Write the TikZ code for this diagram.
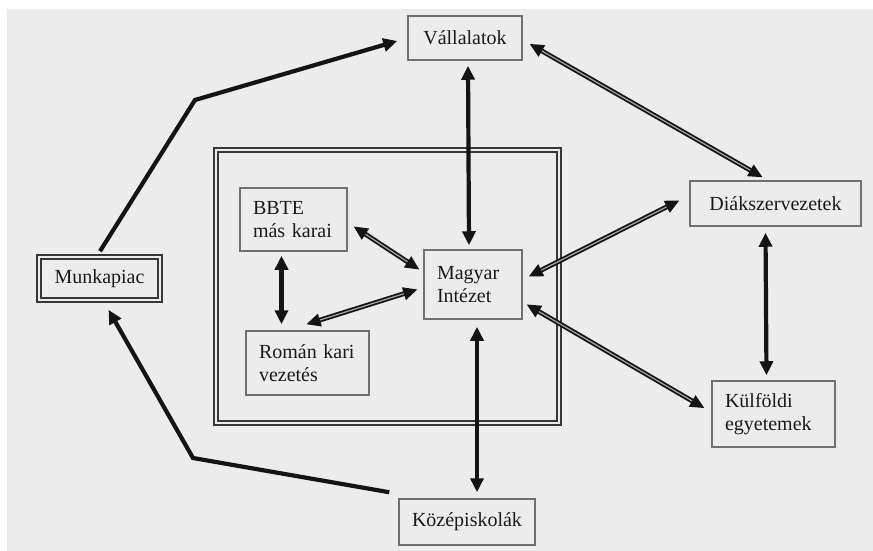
\documentclass[tikz,border=0pt]{standalone}
\usepackage{fontspec}
\setmainfont{Liberation Serif}
\usetikzlibrary{arrows.meta,calc}
\definecolor{bg}{HTML}{ECECEC}
\definecolor{boxline}{HTML}{707070}
\definecolor{ink}{HTML}{141414}
\definecolor{txt}{HTML}{1A1A1A}
\tikzset{
  box/.style={draw=boxline, line width=1.5pt, inner xsep=13pt, inner ysep=4pt,
    font=\fontsize{20}{23}\selectfont, text=txt},
  lbox/.style={box, align=left},
  cbox/.style={box, align=center},
  dbox/.style={cbox, draw=ink!85, line width=1.6pt, double=bg, double distance=2pt},
  frame/.style={draw=ink!85, line width=1.8pt, double=bg, double distance=2pt, inner sep=0pt},
  solidarr/.style={draw=ink, line width=4.2pt, <->},
  dblarr/.style={draw=ink, line width=1.8pt, double=gray!70, double distance=1.2pt, <->},
  onearr/.style={draw=ink, line width=4.2pt, miter limit=4, ->},
}
\begin{document}
\begin{tikzpicture}[x=1pt,y=-1pt, >={Triangle[length=14pt,width=13pt]}]
\useasboundingbox (0,0) rectangle (873,551);
\fill[white] (0,0) rectangle (873,551);
\fill[bg] (7,9) rectangle (873,551);

\node[frame, minimum width=343, minimum height=273] (F) at (387.5,286.5) {};

\node[cbox, minimum width=114, minimum height=44] (V) at (465,38) {Vállalatok};
\node[lbox, text width=72, minimum height=69] (MI) at (473,284.5) {Magyar\\Intézet};
\node[lbox, text width=81, minimum height=63] (BB) at (293.5,219.5) {BBTE\\más karai};
\node[lbox, text width=97, minimum height=64] (RK) at (307.5,363) {Román kari\\vezetés};
\node[dbox, minimum width=121, minimum height=43] (MP) at (99.5,278.5) {Munkapiac};
\node[cbox, minimum width=171, minimum height=45] (D) at (775.5,203.5) {Diákszervezetek};
\node[lbox, text width=97, minimum height=66] (K) at (773.5,414) {Külföldi\\egyetemek};
\node[cbox, minimum width=118, minimum height=46] (KI) at (467,522) {Középiskolák};

% Munkapiac -> Vállalatok
\coordinate (b1) at (195,100);
\path[onearr] ($(MP.north)+(0.5,-5)$) -- (b1) -- ($(V.west)+(-10,3)$);
% Középiskolák -> Munkapiac
\coordinate (b2) at (193,458);
\path[onearr] ($(KI.north west)+(-9,-6)$) -- (b2) -- ($(MP.south)+(9,9)$);

% vertical solid double-headed
\path[solidarr] ($(V.south)+(3,5)$) -- ($(MI.north)+(-4,-4)$);
\path[solidarr] ($(MI.south)+(4,7)$) -- ($(KI.north)+(10,-6)$);
\path[solidarr] ($(D.south)+(-10,6)$) -- ($(K.north)+(-7,-5)$);
\path[solidarr] ($(BB.south)+(-12,4)$) -- ($(RK.north)+(-26,-6)$);

% diagonal double-lined
\path[dblarr] ($(V.east)+(7,6)$) -- ($(D.north)+(-13,-3)$);
\path[dblarr] ($(D.west)+(-10,-3)$) -- ($(MI.east)+(6,-8)$);
\path[dblarr] ($(K.west)+(-7,-6)$) -- ($(MI.east)+(4,20)$);
\path[dblarr] ($(BB.east)+(6,7)$) -- ($(MI.west)+(-4,-15)$);
\path[dblarr] ($(MI.west)+(-6,5)$) -- ($(RK.north)+(-1,-6)$);
\end{tikzpicture}
\end{document}
